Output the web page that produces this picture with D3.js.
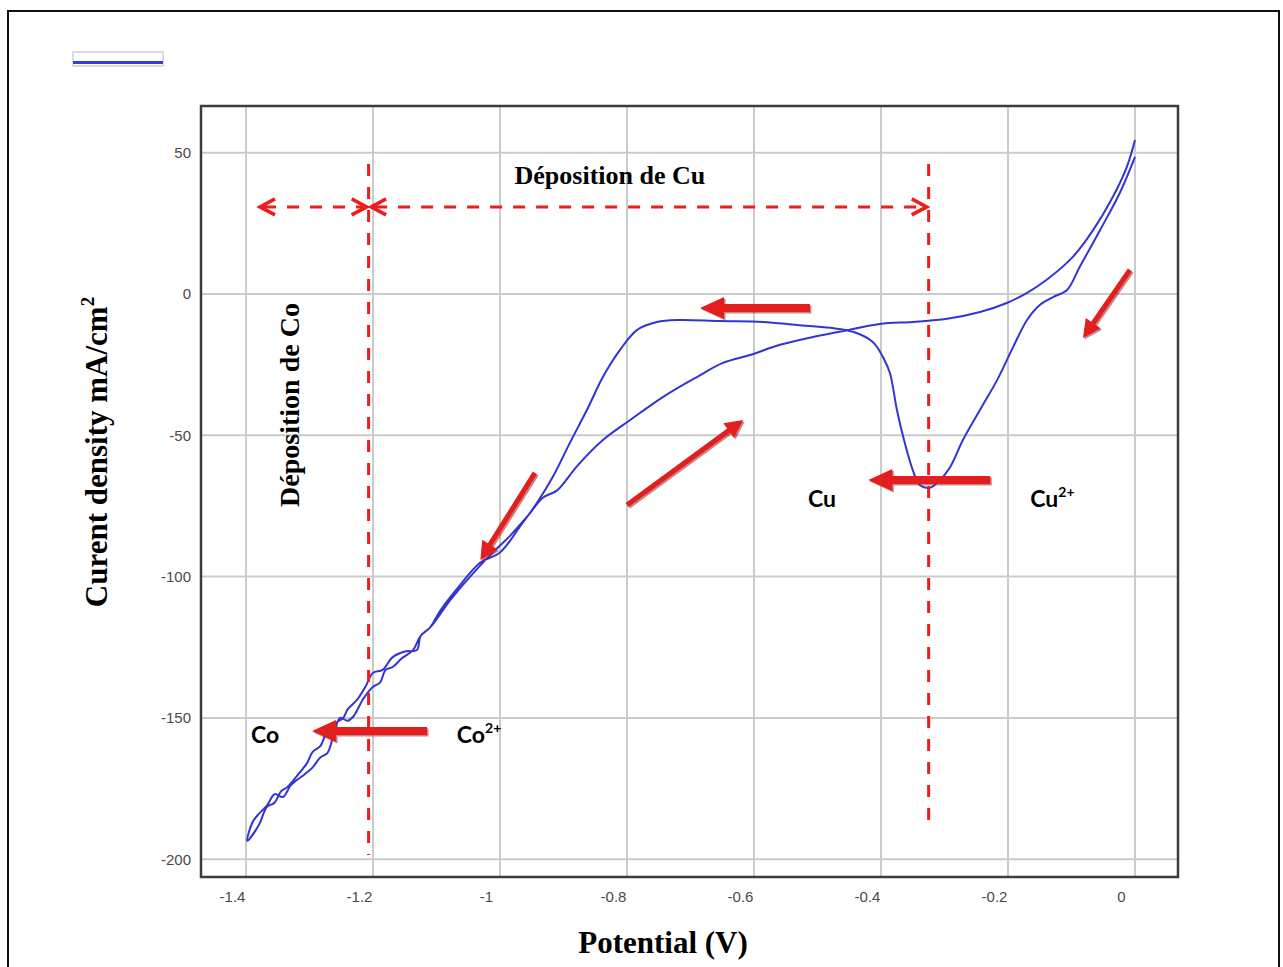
<!DOCTYPE html>
<html>
<head>
<meta charset="utf-8">
<script src="https://cdn.jsdelivr.net/npm/d3@7/dist/d3.min.js"></script>
<style>
  html, body { margin: 0; padding: 0; background: #fff; }
  svg { display: block; }
</style>
</head>
<body>
<div id="chart"></div>
<script>
// cyclic voltammogram, scan starts at 0 V going negative
var forwardScan = [
  [0.000, 48.5], [-0.024, 35.7], [-0.055, 22.6], [-0.087, 9.6], [-0.107, 1.4], [-0.129, -1.1],
  [-0.150, -3.9], [-0.170, -9.2], [-0.192, -18.8], [-0.217, -30.4], [-0.244, -41.0], [-0.271, -51.7],
  [-0.291, -61.2], [-0.307, -65.8], [-0.323, -68.6], [-0.339, -67.6], [-0.350, -62.3], [-0.365, -50.6],
  [-0.375, -41.0], [-0.386, -28.0], [-0.397, -22.3], [-0.413, -17.0], [-0.444, -13.4], [-0.480, -12.0],
  [-0.532, -11.0], [-0.586, -9.9], [-0.654, -9.6], [-0.717, -9.2], [-0.753, -9.9], [-0.784, -12.7],
  [-0.811, -19.8], [-0.838, -29.4], [-0.863, -41.0], [-0.890, -52.7], [-0.917, -64.8], [-0.942, -74.0],
  [-0.969, -82.4], [-1.000, -91.5], [-1.031, -95.0], [-1.063, -103.0], [-1.094, -112.0], [-1.110, -118.0],
  [-1.125, -121.0], [-1.131, -126.0], [-1.150, -126.5], [-1.169, -128.5], [-1.185, -133.0], [-1.200, -134.0],
  [-1.212, -139.0], [-1.225, -143.5], [-1.240, -147.0], [-1.247, -150.0], [-1.260, -152.0], [-1.272, -154.5],
  [-1.283, -160.0], [-1.295, -162.0], [-1.304, -166.0], [-1.318, -170.0], [-1.335, -174.5], [-1.345, -176.0],
  [-1.355, -180.0], [-1.367, -181.5], [-1.380, -188.0], [-1.398, -193.5]
];

var reverseScan = [
  [-1.398, -193.5], [-1.390, -187.0], [-1.380, -184.0], [-1.367, -181.0], [-1.355, -177.0], [-1.342, -178.0],
  [-1.330, -174.0], [-1.320, -172.0], [-1.308, -170.0], [-1.295, -167.5], [-1.283, -164.0], [-1.272, -162.5],
  [-1.262, -156.0], [-1.252, -150.0], [-1.240, -151.0], [-1.231, -149.5], [-1.222, -146.0], [-1.216, -143.5],
  [-1.200, -139.0], [-1.189, -137.5], [-1.180, -133.0], [-1.169, -132.0], [-1.155, -129.0], [-1.137, -126.0],
  [-1.125, -121.0], [-1.110, -118.0], [-1.079, -108.5], [-1.047, -100.0], [-1.016, -92.5], [-0.984, -85.5],
  [-0.958, -79.0], [-0.932, -72.0], [-0.910, -69.5], [-0.879, -61.0], [-0.838, -51.7], [-0.795, -44.6],
  [-0.743, -36.4], [-0.690, -29.4], [-0.649, -24.4], [-0.606, -21.6], [-0.559, -18.0], [-0.507, -15.2],
  [-0.465, -13.4], [-0.402, -10.6], [-0.350, -9.9], [-0.296, -8.8], [-0.244, -6.4], [-0.202, -3.2],
  [-0.170, 0.4], [-0.139, 5.0], [-0.098, 13.1], [-0.066, 22.6], [-0.035, 34.3], [-0.013, 44.9], [0.000, 54.5]
];

var xTicks = [-1.4, -1.2, -1, -0.8, -0.6, -0.4, -0.2, 0];
var yTicks = [50, 0, -50, -100, -150, -200];

// annotations, in data units
var depositionLines = [
  { v: -1.207, top: 46, bottom: -198.5 },
  { v: -0.325, top: 46, bottom: -187 }
];
var rangeArrows = [
  { from: -1.378, to: -1.210, i: 30.8 },
  { from: -1.203, to: -0.328, i: 30.8 }
];
var scanArrows = [
  { x1: -0.512, y1: -5.0, x2: -0.685, y2: -5.0, w: 8 },
  { x1: -0.228, y1: -65.8, x2: -0.420, y2: -65.8, w: 8 },
  { x1: -1.115, y1: -154.6, x2: -1.296, y2: -154.6, w: 8 },
  { x1: -0.800, y1: -74.7, x2: -0.617, y2: -44.6, w: 5 },
  { x1: -0.945, y1: -63.3, x2: -1.031, y2: -94.1, w: 5 },
  { x1: -0.008, y1: 8.5, x2: -0.082, y2: -15.6, w: 5 }
];
var speciesLabels = [
  { text: "Cu", sup: "", v: -0.515, i: -75.5 },
  { text: "Cu", sup: "2+", v: -0.165, i: -75.5 },
  { text: "Co", sup: "", v: -1.392, i: -159 },
  { text: "Co", sup: "2+", v: -1.068, i: -159 }
];

var width = 1283, height = 967;
var plot = { left: 201, right: 1178, top: 106, bottom: 877 };

var x = d3.scaleLinear().domain([-1.4709, 0.0677]).range([plot.left, plot.right]);
var y = d3.scaleLinear().domain([-206.3, 66.5]).range([plot.bottom, plot.top]);

var svg = d3.select("#chart").append("svg")
    .attr("width", width)
    .attr("height", height);

svg.append("rect").attr("width", width).attr("height", height).attr("fill", "#fff");

// outer frame
svg.append("rect")
    .attr("x", 8).attr("y", 11)
    .attr("width", 1271).attr("height", 990)
    .attr("fill", "none")
    .attr("stroke", "#111")
    .attr("stroke-width", 2);

// legend swatch
svg.append("rect")
    .attr("x", 73).attr("y", 52)
    .attr("width", 90).attr("height", 14)
    .attr("fill", "#fff")
    .attr("stroke", "#cfcfd8")
    .attr("stroke-width", 1.5);
svg.append("line")
    .attr("x1", 73).attr("x2", 163)
    .attr("y1", 62.5).attr("y2", 62.5)
    .attr("stroke", "#3a3ad8")
    .attr("stroke-width", 3);

// grid
var grid = svg.append("g");
grid.selectAll(".vgrid").data(xTicks).enter().append("line")
    .attr("x1", function (d) { return x(d); })
    .attr("x2", function (d) { return x(d); })
    .attr("y1", plot.top).attr("y2", plot.bottom)
    .attr("stroke", "#cbcbcb").attr("stroke-width", 2);
grid.selectAll(".hgrid").data(yTicks).enter().append("line")
    .attr("y1", function (d) { return y(d); })
    .attr("y2", function (d) { return y(d); })
    .attr("x1", plot.left).attr("x2", plot.right)
    .attr("stroke", "#cbcbcb").attr("stroke-width", 2);

// axes (labels only, frame drawn below)
var fmt = function (d) { return String(+d.toFixed(1)); };
var xAxis = svg.append("g")
    .attr("transform", "translate(0," + plot.bottom + ")")
    .call(d3.axisBottom(x).tickValues(xTicks).tickSize(0).tickPadding(14).tickFormat(fmt));
xAxis.selectAll("text").attr("dx", -14);

var yAxis = svg.append("g")
    .attr("transform", "translate(" + plot.left + ",0)")
    .call(d3.axisLeft(y).tickValues(yTicks).tickSize(0).tickPadding(10).tickFormat(fmt));

svg.selectAll(".domain").remove();
svg.selectAll(".tick text")
    .style("font-family", "'Liberation Sans Narrow', 'Liberation Sans', Arial, sans-serif")
    .style("font-size", "15px")
    .attr("fill", "#4a4a4a");

svg.append("rect")
    .attr("x", plot.left).attr("y", plot.top)
    .attr("width", plot.right - plot.left).attr("height", plot.bottom - plot.top)
    .attr("fill", "none")
    .attr("stroke", "#3c3c3c")
    .attr("stroke-width", 2.5);

// curve
var line = d3.line()
    .x(function (d) { return x(d[0]); })
    .y(function (d) { return y(d[1]); })
    .curve(d3.curveCatmullRom.alpha(0.5));

svg.append("path")
    .datum(forwardScan.concat(reverseScan.slice(1)))
    .attr("d", line)
    .attr("fill", "none")
    .attr("stroke", "#3434d4")
    .attr("stroke-width", 2)
    .attr("stroke-linejoin", "round");

var serif = "'Liberation Serif', 'Times New Roman', serif";
var sans = "Lato, 'Open Sans', sans-serif";

// dashed red guides
var red = "#ee1c1c";
svg.selectAll(".vdash").data(depositionLines).enter().append("line")
    .attr("x1", function (d) { return x(d.v); })
    .attr("x2", function (d) { return x(d.v); })
    .attr("y1", function (d) { return y(d.top); })
    .attr("y2", function (d) { return y(d.bottom); })
    .attr("stroke", red)
    .attr("stroke-width", 3)
    .attr("stroke-dasharray", "12,11");

var ra = svg.selectAll(".hdash").data(rangeArrows).enter().append("g");
ra.append("line")
    .attr("x1", function (d) { return x(d.from) + 4; })
    .attr("x2", function (d) { return x(d.to) - 4; })
    .attr("y1", function (d) { return y(d.i); })
    .attr("y2", function (d) { return y(d.i); })
    .attr("stroke", red)
    .attr("stroke-width", 3)
    .attr("stroke-dasharray", "12,11");
ra.append("path")
    .attr("d", function (d) {
      var a = x(d.from), b = x(d.to), c = y(d.i);
      return "M" + (a + 15) + "," + (c - 8) + "L" + a + "," + c + "L" + (a + 15) + "," + (c + 8) +
        "M" + (b - 15) + "," + (c - 8) + "L" + b + "," + c + "L" + (b - 15) + "," + (c + 8);
    })
    .attr("fill", "none")
    .attr("stroke", red)
    .attr("stroke-width", 3.5);

// solid red scan-direction arrows
function arrowPath(d) {
  var x1 = x(d.x1), y1 = y(d.y1), x2 = x(d.x2), y2 = y(d.y2);
  var dx = x2 - x1, dy = y2 - y1, len = Math.sqrt(dx * dx + dy * dy);
  var ux = dx / len, uy = dy / len, nx = -uy, ny = ux;
  var hl = d.w > 6 ? 24 : 18, hw = d.w > 6 ? 11 : 9, sw = d.w / 2;
  var bx = x2 - ux * hl, by = y2 - uy * hl;
  var p = [
    [x1 + nx * sw, y1 + ny * sw],
    [bx + nx * sw, by + ny * sw],
    [bx + nx * hw, by + ny * hw],
    [x2, y2],
    [bx - nx * hw, by - ny * hw],
    [bx - nx * sw, by - ny * sw],
    [x1 - nx * sw, y1 - ny * sw]
  ];
  return "M" + p.join("L") + "Z";
}
svg.selectAll(".arrowShadow").data(scanArrows).enter().append("path")
    .attr("d", arrowPath)
    .attr("transform", "translate(1.5,1.5)")
    .attr("fill", "#9b2020")
    .attr("opacity", 0.55);
svg.selectAll(".arrow").data(scanArrows).enter().append("path")
    .attr("d", arrowPath)
    .attr("fill", "#e31e1e");

// species labels
var sl = svg.selectAll(".species").data(speciesLabels).enter().append("text")
    .attr("x", function (d) { return x(d.v); })
    .attr("y", function (d) { return y(d.i); })
    .style("font-family", sans)
    .style("font-weight", 700)
    .style("font-size", "23px")
    .attr("fill", "#000");
sl.append("tspan").text(function (d) { return d.text; });
sl.append("tspan")
    .attr("dy", -10)
    .style("font-size", "14px")
    .text(function (d) { return d.sup; });

// region labels
svg.append("text")
    .attr("x", x(-0.827)).attr("y", y(38.8))
    .attr("text-anchor", "middle")
    .style("font-family", serif)
    .style("font-weight", 700)
    .style("font-size", "26px")
    .text("Déposition de Cu");

svg.append("text")
    .attr("transform", "translate(" + (x(-1.331) + 9) + "," + y(-39.3) + ") rotate(-90)")
    .attr("text-anchor", "middle")
    .style("font-family", serif)
    .style("font-weight", 700)
    .style("font-size", "28px")
    .text("Déposition de Co");

// axis titles
svg.append("text")
    .attr("x", 663).attr("y", 953)
    .attr("text-anchor", "middle")
    .style("font-family", serif)
    .style("font-weight", 700)
    .style("font-size", "31px")
    .text("Potential (V)");

var yt = svg.append("text")
    .attr("transform", "translate(107,452) rotate(-90)")
    .attr("text-anchor", "middle")
    .style("font-family", serif)
    .style("font-weight", 700)
    .style("font-size", "31px");
yt.append("tspan").text("Curent density mA/cm");
yt.append("tspan").attr("dy", -13).style("font-size", "19px").text("2");
</script>
</body>
</html>
